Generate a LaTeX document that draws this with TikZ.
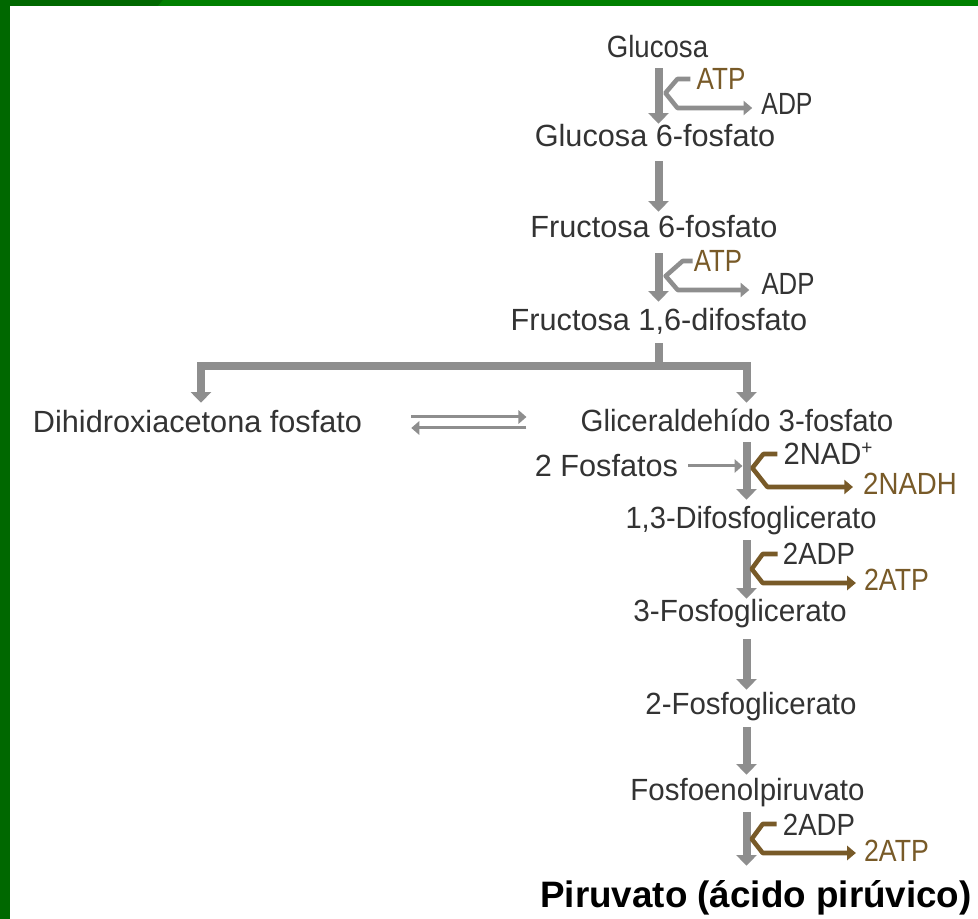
\documentclass[tikz,border=0pt]{standalone}
\usepackage{fontspec}
\setmainfont{Liberation Sans}
\usetikzlibrary{arrows.meta}
\definecolor{arrgray}{RGB}{142,142,142}
\definecolor{txtgray}{RGB}{51,51,51}
\definecolor{brn}{RGB}{120,90,40}
\definecolor{grnA}{RGB}{0,104,0}
\definecolor{grnB}{RGB}{0,128,0}
\begin{document}
\begin{tikzpicture}[x=0.75pt,y=-0.75pt,
  lbl/.style={font=\fontsize{23pt}{26pt}\selectfont, text=txtgray, inner sep=0pt,
              anchor=base, text height=16.5pt, text depth=0pt},
  brlbl/.style={lbl, text=brn},
  bigarrow/.style={draw=arrgray, line width=6pt, -{Triangle[width=15pt,length=8pt]}},
  bigline/.style={draw=arrgray, line width=6pt},
  branchG/.style={draw=arrgray, line width=3.4pt, line join=round,
                  -{Triangle[width=10.5pt,length=6.5pt]}},
  branchB/.style={branchG, draw=brn},
  thinarrow/.style={draw=arrgray, line width=2.25pt, -{Triangle[width=10pt,length=6pt]}},
]
\useasboundingbox (0,0) rectangle (978,919);

% frame
\fill[grnA] (0,0) rectangle (978,919);
\fill[grnB] (158,6) -- (163,0) -- (978,0) -- (978,6) -- cycle;
\fill[white] (10,6) rectangle (978,919);

% columns of the main pathway
\coordinate (colA) at (658.5,0);
\coordinate (colB) at (746.5,0);
\coordinate (split) at (658.5,366);

% metabolites
\node[lbl, xscale=0.90] (glu)  at (657.5,58)  {Glucosa};
\node[lbl]              (g6p)  at (655,147)   {Glucosa 6-fosfato};
\node[lbl]              (f6p)  at (654,238)   {Fructosa 6-fosfato};
\node[lbl]              (f16)  at (659,331)   {Fructosa 1,6-difosfato};
\node[lbl]              (dhap) at (197.5,433) {Dihidroxiacetona fosfato};
\node[lbl, xscale=0.96] (gap)  at (737,432)   {Gliceraldehído 3-fosfato};
\node[lbl]              (fos)  at (606.5,477) {2 Fosfatos};
\node[lbl, xscale=0.95] (dfg)  at (751,528)   {1,3-Difosfoglicerato};
\node[lbl, xscale=0.97] (pg3)  at (740,621)   {3-Fosfoglicerato};
\node[lbl, xscale=0.96] (pg2)  at (751,714)   {2-Fosfoglicerato};
\node[lbl, xscale=0.96] (pep)  at (747.5,800) {Fosfoenolpiruvato};
\node[lbl, font=\fontsize{27.6pt}{30pt}\selectfont\bfseries, text=black, text height=19.5pt]
                        (pyr)  at (756,907)   {Piruvato (ácido pirúvico)};

% cofactors
\node[brlbl, xscale=0.85] (atp1) at (721,90)    {ATP};
\node[lbl,   xscale=0.81] (adp1) at (787,115)   {ADP};
\node[brlbl, xscale=0.84] (atp2) at (718,272)   {ATP};
\node[lbl,   xscale=0.84] (adp2) at (788,295)   {ADP};
\node[lbl,   xscale=0.95] (nad)  at (828,465)
  {2NAD\raisebox{7.5pt}{\fontsize{15pt}{15pt}\selectfont +}};
\node[brlbl, xscale=0.90] (nadh) at (910,495)   {2NADH};
\node[lbl,   xscale=0.90] (adp3) at (819,565)   {2ADP};
\node[brlbl, xscale=0.87] (atp3) at (896.5,590) {2ATP};
\node[lbl,   xscale=0.90] (adp4) at (819,835)   {2ADP};
\node[brlbl, xscale=0.87] (atp4) at (896.5,861) {2ATP};

% main reaction arrows
\draw[bigarrow, shorten <=7.5pt, shorten >=0.75pt] (glu.south -| colA) -- (g6p.north -| colA);
\draw[bigarrow, shorten <=10.5pt, shorten >=3pt]   (g6p.south -| colA) -- (f6p.north -| colA);
\draw[bigarrow, shorten <=11.25pt, shorten >=5.25pt] (f6p.south -| colA) -- (f16.north -| colA);

% cleavage into the two trioses
\draw[bigline, shorten <=9pt] (f16.south -| colA) -- (split);
\draw[bigarrow, shorten >=6pt] (split) -| ([xshift=2.6pt]dhap.north);
\draw[bigarrow, shorten >=5.25pt] (split) -| (colB |- gap.north);

% triose isomerase equilibrium
\draw[thinarrow, shorten <=36.75pt, shorten >=40.5pt]
  ([yshift=3.75pt]dhap.east) -- ([yshift=3.75pt]dhap.east -| gap.west);
\draw[thinarrow, shorten <=40.5pt, shorten >=36.75pt]
  ([yshift=-4.5pt]dhap.east -| gap.west) -- ([yshift=-4.5pt]dhap.east);

\draw[bigarrow, shorten <=7.5pt, shorten >=4.5pt]  (gap.south -| colB) -- (dfg.north -| colB);
\draw[bigarrow, shorten <=9pt]                     (dfg.south -| colB) -- (pg3.north -| colB);
\draw[bigarrow, shorten <=13.5pt, shorten >=1.5pt] (pg3.south -| colB) -- (pg2.north -| colB);
\draw[bigarrow, shorten <=9.75pt, shorten >=2.25pt] (pg2.south -| colB) -- (pep.north -| colB);
\draw[bigarrow, shorten <=9pt, shorten >=11.25pt]  (pep.south -| colB) -- (pyr.north -| colB);

% phosphate input
\draw[thinarrow, shorten <=7.5pt, shorten >=3pt] (fos.east) -- (fos.east -| colB);

% coupled cofactor branches
\draw[branchG, shorten >=6.75pt] ([xshift=-4.5pt]atp1.west) -- ++(-13,0) -- ++(-12,14) -- ++(12,15)
  coordinate (b1) -- (b1 -| adp1.west);
\draw[branchG, shorten >=9pt] ([xshift=-0.75pt]atp2.west) -- ++(-10,0) -- ++(-17,15) -- ++(12,14)
  coordinate (b2) -- (b2 -| adp2.west);
\draw[branchB, shorten >=7.5pt] ([xshift=-4.5pt]nad.west) -- ++(-14,0) -- ++(-11,14) -- ++(15,19)
  coordinate (b3) -- (b3 -| nadh.west);
\draw[branchB, shorten >=6pt] ([xshift=-3.75pt]adp3.west) -- ++(-15,0) -- ++(-11,15) -- ++(11,14)
  coordinate (b4) -- (b4 -| atp3.west);
\draw[branchB, shorten >=6pt] ([xshift=-4.5pt]adp4.west) -- ++(-14,0) -- ++(-11,15) -- ++(11,14)
  coordinate (b5) -- (b5 -| atp4.west);
\end{tikzpicture}
\end{document}
